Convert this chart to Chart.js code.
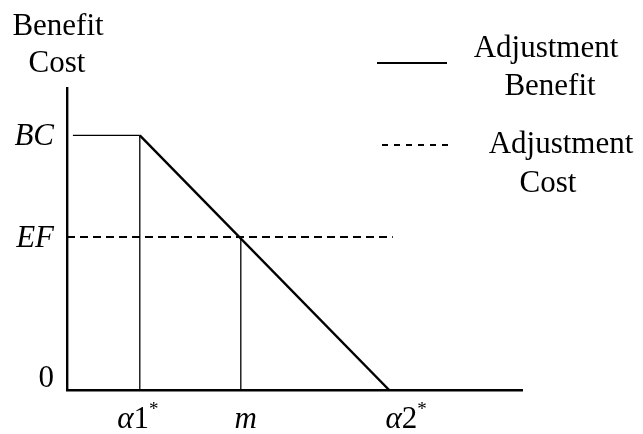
<!DOCTYPE html>
<html><head><meta charset="utf-8">
<script src="https://cdn.jsdelivr.net/npm/chart.js@4/dist/chart.umd.min.js"></script>
<style>html,body{margin:0;padding:0;background:#fff;overflow:hidden}#wrap{width:643px;height:434px;position:relative}</style>
</head><body><div id="wrap"><canvas id="c" width="643" height="434"></canvas></div>
<script>
// ---- data ----
const xTickLabels = ['α1*', 'm', 'α2*'];
const xTickValues = [1.6, 3.82, 7.08];
const yTickLabels = ['0', 'EF', 'BC'];
const yTickValues = [0, 5.07, 8.43];
const benefitX = [1.6, 7.08];
const benefitY = [8.43, 0];
const costX = [0, 7.16];
const costY = [5.07, 5.07];
const bcGuideStartX = 0.13;
const seriesNames = ['Adjustment Benefit', 'Adjustment Cost'];
const axisTitle = ['Benefit', 'Cost'];

const FF = '"Liberation Serif", "Times New Roman", serif';
const pts = (xs, ys) => xs.map((x, i) => ({x, y: ys[i]}));

const guides = [
  pts([bcGuideStartX, xTickValues[0]], [yTickValues[2], yTickValues[2]]),
  pts([xTickValues[0], xTickValues[0]], [0, yTickValues[2]]),
  pts([xTickValues[1], xTickValues[1]], [0, yTickValues[1]])
];

function drawRich(ctx, text, x, baseY, size, align) {
  const segs = [];
  for (const ch of text) {
    if (ch === '*') segs.push({t: '*', font: Math.round(size * 0.6) + 'px ' + FF, dy: -size * 0.42});
    else if (/[0-9]/.test(ch)) segs.push({t: ch, font: size + 'px ' + FF, dy: 0});
    else segs.push({t: ch, font: 'italic ' + size + 'px ' + FF, dy: 0});
  }
  let w = 0;
  segs.forEach(s => { ctx.font = s.font; s.w = ctx.measureText(s.t).width; w += s.w; });
  let cx = align === 'right' ? x - w : align === 'center' ? x - w / 2 : x;
  ctx.textAlign = 'left';
  ctx.textBaseline = 'alphabetic';
  segs.forEach(s => { ctx.font = s.font; ctx.fillText(s.t, cx, baseY + s.dy); cx += s.w; });
}

const annot = {
  id: 'annot',
  afterDraw(chart, args, opts) {
    const ctx = chart.ctx, xs = chart.scales.x, ys = chart.scales.y, ca = chart.chartArea;
    ctx.save();
    ctx.fillStyle = '#000';
    yTickLabels.forEach((lab, i) => {
      const py = ys.getPixelForValue(yTickValues[i]);
      drawRich(ctx, lab, ca.left - 13, Math.min(py + 10, ca.bottom - 3), 31, 'right');
    });
    xTickLabels.forEach((lab, i) => {
      const px = xs.getPixelForValue(xTickValues[i]);
      drawRich(ctx, lab, px + opts.xLabelDx[i], ca.bottom + 38, 31, 'center');
    });
    ctx.font = '31px ' + FF;
    ctx.textAlign = 'center';
    ctx.textBaseline = 'alphabetic';
    ctx.fillText(axisTitle[0], 58, 35);
    ctx.fillText(axisTitle[1], 57, 72);
    opts.legend.forEach((L, i) => {
      const ds = chart.data.datasets[i];
      ctx.strokeStyle = ds.borderColor;
      ctx.lineWidth = 2;
      ctx.setLineDash(L.dash);
      ctx.beginPath();
      ctx.moveTo(L.x1, L.y); ctx.lineTo(L.x2, L.y); ctx.stroke();
      ctx.setLineDash([]);
      const words = ds.label.split(' ');
      ctx.font = '31px ' + FF;
      ctx.textAlign = 'center';
      ctx.fillText(words[0], L.tx[0], L.ty[0]);
      ctx.fillText(words[1], L.tx[1], L.ty[1]);
    });
    ctx.restore();
  }
};

new Chart(document.getElementById('c'), {
  type: 'scatter',
  data: {
    datasets: [
      {label: seriesNames[0], data: pts(benefitX, benefitY), showLine: true, borderColor: '#000', borderWidth: 2.4, pointRadius: 0, tension: 0},
      {label: seriesNames[1], data: pts(costX, costY), showLine: true, borderColor: '#000', borderWidth: 2, borderDash: [8, 5], pointRadius: 0},
      ...guides.map(g => ({label: 'guide', data: g, showLine: true, borderColor: '#000', borderWidth: 1.3, pointRadius: 0}))
    ]
  },
  options: {
    responsive: false,
    animation: false,
    devicePixelRatio: 1,
    layout: {padding: {left: 67, right: 121, top: 88, bottom: 44}},
    scales: {
      x: {type: 'linear', min: 0, max: 10,
          grid: {display: false, drawTicks: false}, ticks: {display: false},
          border: {display: true, color: '#000', width: 2.4}},
      y: {type: 'linear', min: 0, max: 10,
          grid: {display: false, drawTicks: false}, ticks: {display: false},
          border: {display: true, color: '#000', width: 2.4}}
    },
    plugins: {
      legend: {display: false},
      tooltip: {enabled: false},
      annot: {
        xLabelDx: [-2, 5, 17],
        legend: [
          {x1: 377, x2: 447, y: 63, dash: [], tx: [546, 550], ty: [57, 95]},
          {x1: 382, x2: 452, y: 145, dash: [6, 6], tx: [561, 548], ty: [153, 192]}
        ]
      }
    }
  },
  plugins: [annot]
});
</script>
</body></html>
